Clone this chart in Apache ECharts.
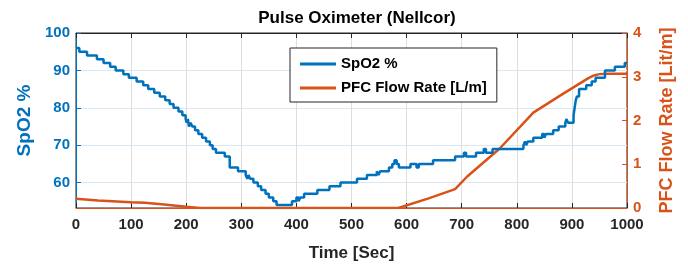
<!DOCTYPE html>
<html>
<head>
<meta charset="utf-8">
<script src="https://cdn.jsdelivr.net/npm/echarts@6/dist/echarts.min.js"></script>
<style>
  html, body { margin: 0; padding: 0; background: #fff; }
  #chart { width: 688px; height: 264px; }
</style>
</head>
<body>
<div id="chart"></div>
<script>
// SpO2 readings (step changes): time [s] and value [%]
const spo2Time = [0, 6, 20, 38, 50, 62, 72, 86, 96, 110, 122, 131, 142, 152, 162, 170, 177, 186, 193, 199,
  201, 203, 205, 208, 211, 216, 222, 229, 236, 243, 248, 254, 270, 279, 294, 308, 311, 313, 316, 322,
  330, 336, 344, 350, 358, 364, 392, 400, 404, 407, 414, 438, 460, 480, 510, 528, 546, 549, 552, 568,
  574, 578, 582, 586, 607, 618, 622, 648, 688, 704, 708, 726, 740, 744, 756, 812, 815, 817, 820, 830,
  846, 850, 853, 866, 876, 888, 890, 893, 903, 905, 907, 909, 913, 926, 936, 943, 960, 978, 996, 1000];
const spo2Value = [96, 95, 94, 93, 92, 91, 90, 89, 88, 87, 86, 85, 84, 83, 82, 81, 80, 79, 78, 77,
  76, 77, 75, 76, 75, 74, 73, 72, 71, 70, 69, 68, 67, 64, 63, 62, 61, 62, 61, 60,
  59, 58, 57, 56, 55, 54, 55, 56, 55, 56, 57, 58, 59, 60, 61, 62, 63, 62, 63, 64,
  65, 66, 65, 64, 65, 64, 65, 66, 67, 68, 67, 68, 69, 68, 69, 70, 71, 70, 71, 72,
  73, 72, 73, 74, 75, 76, 77, 76, 78, 80, 82, 83, 85, 86, 87, 88, 90, 91, 92, 92];

// PFC flow rate [L/min]
const pfcTime = [0, 40, 100, 125, 160, 200, 225, 585, 640, 688, 710, 769, 830, 880, 930, 940, 950, 965, 1000];
const pfcValue = [0.21, 0.17, 0.13, 0.12, 0.08, 0.03, 0, 0, 0.22, 0.43, 0.72, 1.36, 2.18, 2.58, 2.97, 3.03, 3.06, 3.07, 3.07];

const spo2Ticks = [60, 70, 80, 90, 100];

const blue = "#0072BD";
const orange = "#D95319";
const dark = "#262626";
const font = "Liberation Sans";

const chart = echarts.init(document.getElementById("chart"));

const option = {
  animation: false,
  backgroundColor: "#fff",
  title: {
    text: "Pulse Oximeter (Nellcor)",
    left: 352,
    textAlign: "center",
    top: 5,
    textStyle: { fontFamily: font, fontWeight: "bold", fontSize: 17, color: "#000" },
  },
  legend: {
    orient: "vertical",
    left: 290,
    top: 48,
    padding: [8, 10, 6, 10],
    itemGap: 8,
    itemWidth: 36,
    itemHeight: 3,
    icon: "rect",
    borderColor: dark,
    borderWidth: 1,
    backgroundColor: "#fff",
    textStyle: { fontFamily: font, fontWeight: "bold", fontSize: 15, color: "#000", lineHeight: 16 },
    data: ["SpO2 %", "PFC Flow Rate [L/m]"],
  },
  grid: {
    left: 76,
    right: 61,
    top: 33,
    bottom: 56,
    outerBoundsMode: "none",
    containLabel: false,
    show: true,
    borderColor: dark,
    borderWidth: 1,
  },
  xAxis: [
    {
      type: "value",
      min: 0,
      max: 1000,
      interval: 100,
      name: "Time [Sec]",
      nameLocation: "middle",
      nameGap: 37,
      nameTextStyle: { fontFamily: font, fontWeight: "bold", fontSize: 17, color: dark },
      axisLine: { onZero: false, lineStyle: { color: orange, width: 1 } },
      axisTick: { inside: true, length: 5, lineStyle: { color: dark } },
      axisLabel: { margin: 9, fontFamily: font, fontWeight: "bold", fontSize: 15, color: dark,
        formatter: (v) => String(v) },
      splitLine: { show: true, lineStyle: { color: "#dedede", width: 1 } },
    },
    {
      type: "value",
      position: "top",
      min: 0,
      max: 1000,
      interval: 100,
      axisLine: { onZero: false, lineStyle: { color: dark, width: 1 } },
      axisTick: { inside: true, length: 5, lineStyle: { color: dark } },
      axisLabel: { show: false },
      splitLine: { show: false },
    },
  ],
  yAxis: [
    {
      type: "value",
      min: 53.2,
      max: 100,
      name: "SpO2 %",
      nameLocation: "middle",
      nameGap: 40,
      nameTextStyle: { fontFamily: font, fontWeight: "bold", fontSize: 19, color: blue },
      axisLine: { show: true, onZero: false, lineStyle: { color: blue, width: 1 } },
      axisTick: { show: true, inside: true, length: 5, lineStyle: { color: blue }, customValues: spo2Ticks },
      axisLabel: { margin: 6, fontFamily: font, fontWeight: "bold", fontSize: 15, color: blue,
        customValues: spo2Ticks },
      splitLine: { show: true, lineStyle: { color: "#d8e7f2", width: 1 } },
    },
    {
      type: "value",
      min: 0,
      max: 4,
      interval: 1,
      position: "right",
      name: "PFC Flow Rate [Lit/m]",
      nameLocation: "middle",
      nameGap: 31,
      nameTextStyle: { fontFamily: font, fontWeight: "bold", fontSize: 18, color: orange },
      axisLine: { show: true, onZero: false, lineStyle: { color: orange, width: 1 } },
      axisTick: { show: true, inside: true, length: 5, lineStyle: { color: orange } },
      axisLabel: { margin: 6, fontFamily: font, fontWeight: "bold", fontSize: 15, color: orange },
      splitLine: { show: false },
    },
  ],
  series: [
    {
      name: "SpO2 %",
      type: "line",
      step: "end",
      xAxisIndex: 0,
      yAxisIndex: 0,
      showSymbol: false,
      symbol: "none",
      color: blue,
      lineStyle: { color: blue, width: 2.5 },
      data: spo2Time.map((t, i) => [t, spo2Value[i]]),
      z: 3,
    },
    {
      name: "PFC Flow Rate [L/m]",
      type: "line",
      xAxisIndex: 0,
      yAxisIndex: 1,
      showSymbol: false,
      symbol: "none",
      color: orange,
      lineStyle: { color: orange, width: 2.5 },
      data: pfcTime.map((t, i) => [t, pfcValue[i]]),
      z: 2,
    },
  ],
};

chart.setOption(option);
</script>
</body>
</html>
